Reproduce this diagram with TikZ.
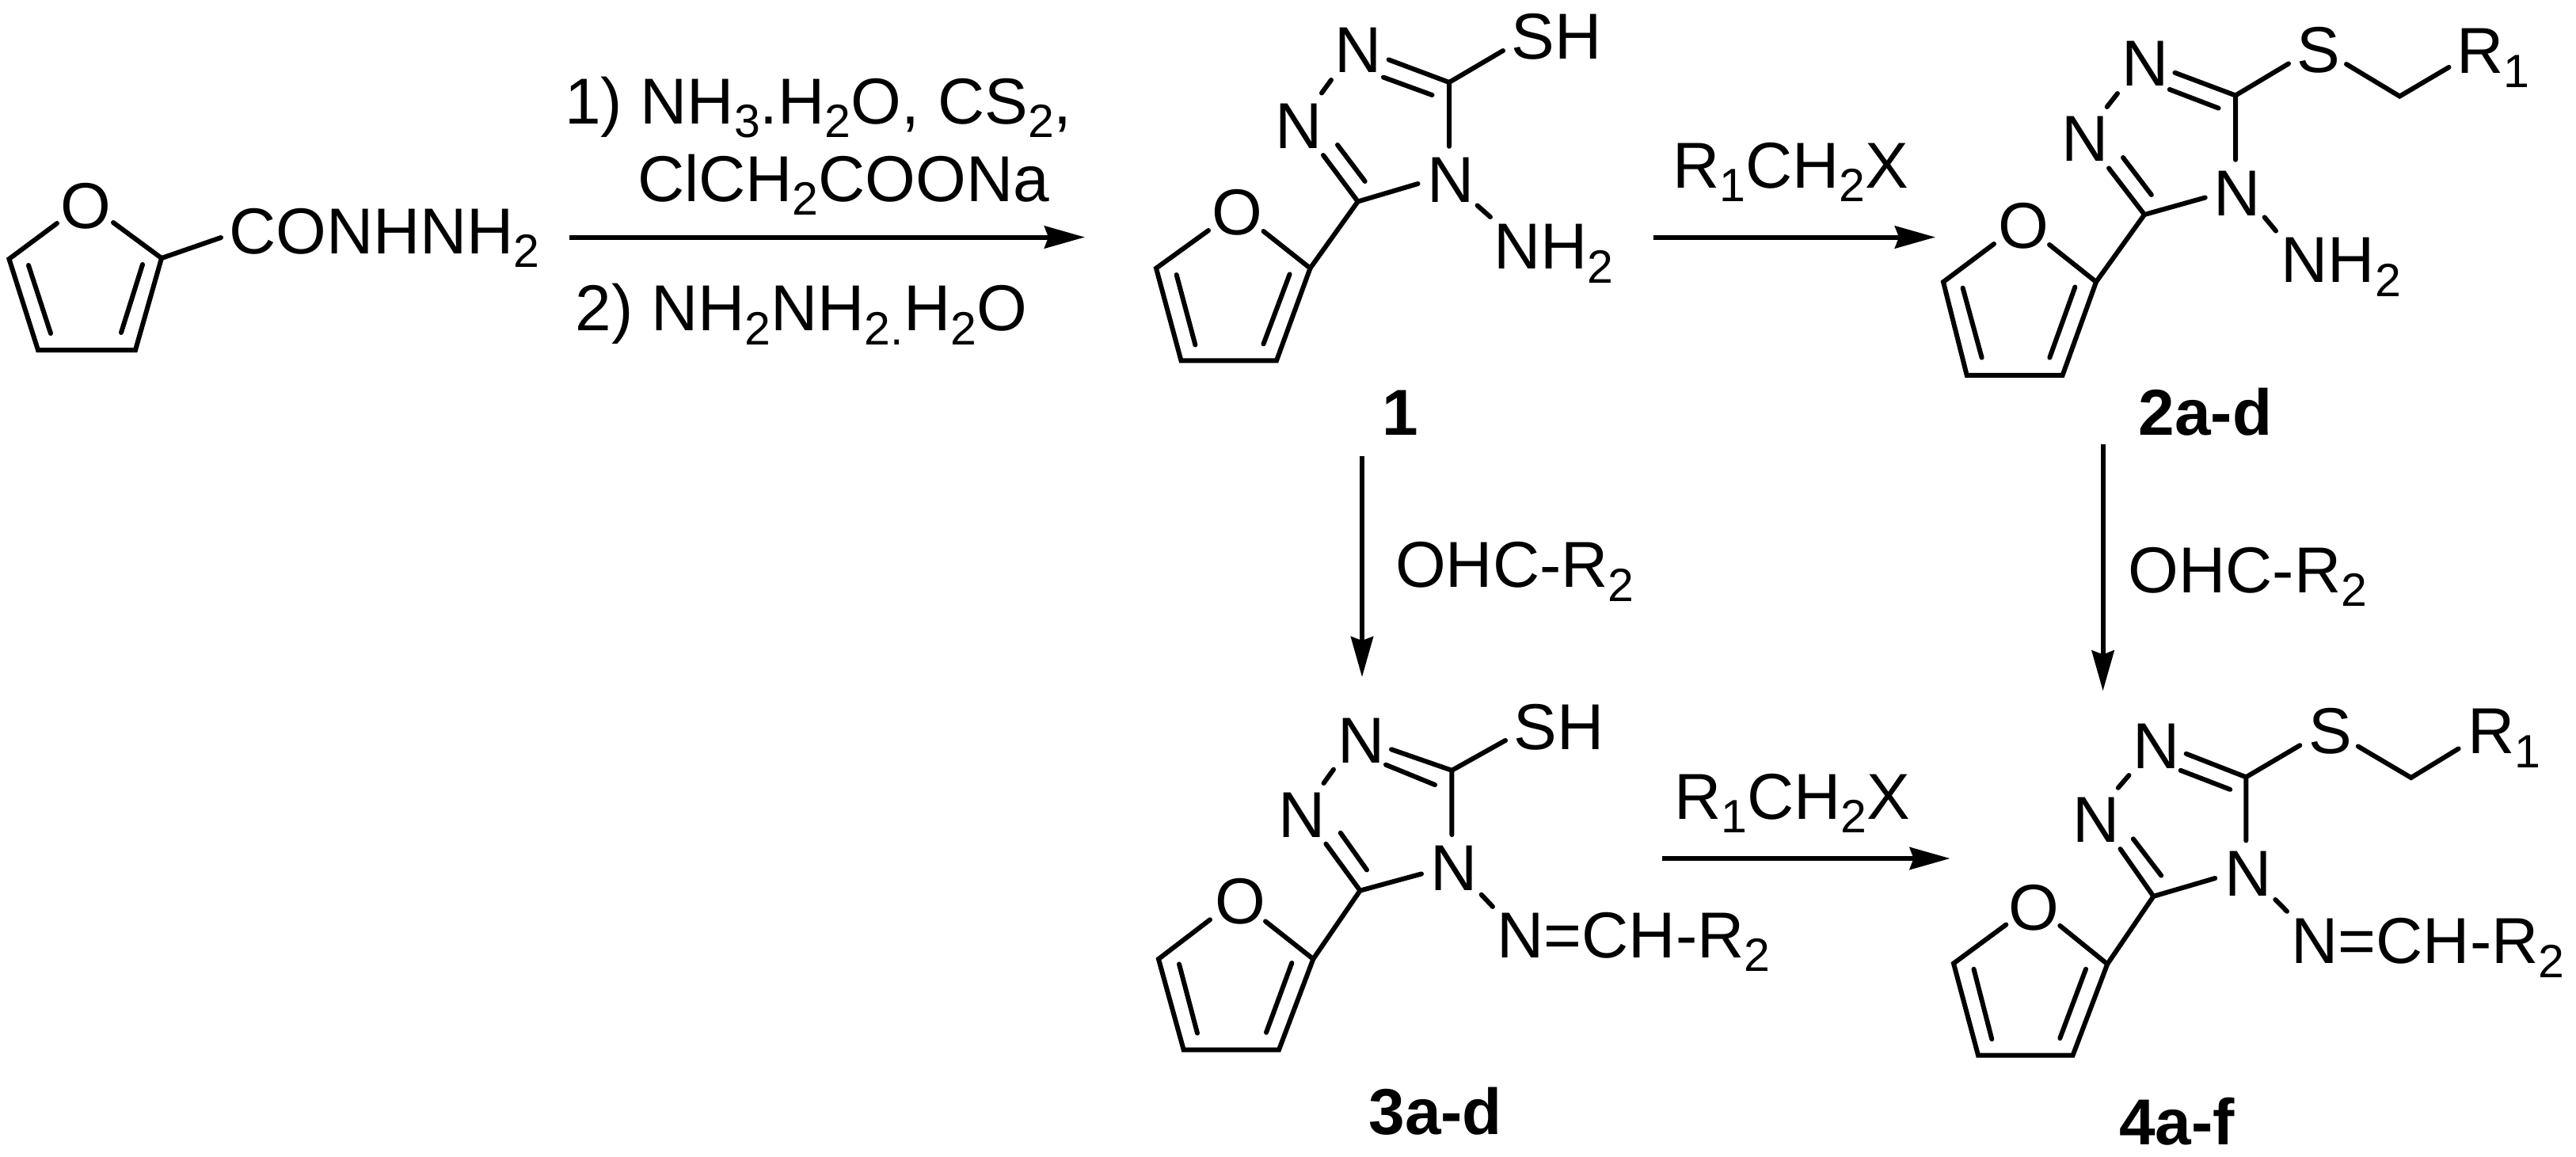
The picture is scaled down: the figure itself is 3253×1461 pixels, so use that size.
\documentclass[tikz,border=0pt]{standalone}
\usepackage{fontspec}
\setmainfont{Liberation Sans}
\usetikzlibrary{arrows.meta}
\newcommand\lsub[1]{\raisebox{-17.5pt}{\fontsize{59}{59}\selectfont #1}}
\newcommand\pt[2]{\coordinate (#1) at (#2);}
\newcommand\drawcore[1]{%
  \draw[bond] (#1Se) -- (#1Cc) -- (#1Nd);
  \draw[bond] (#1Do) -- (#1Cc);
  \draw[bond] (#1Di1) -- (#1Di2);
  \draw[bond] (#1Nn1) -- (#1Nn2);
  \draw[bond] (#1Eo) -- (#1C5) -- (#1N4e);
  \draw[bond] (#1Ei1) -- (#1Ei2);
  \draw[bond] (#1C5) -- (#1F2);
  \draw[bond] (#1FO5) -- (#1F5) -- (#1F4) -- (#1F3) -- (#1F2) -- (#1FO2);
  \draw[bond] (#1Fi1) -- (#1Fi2);
  \draw[bond] (#1Fj1) -- (#1Fj2);
  \draw[bond] (#1Ne1) -- (#1Ne2);
}
\tikzset{
  bond/.style={line width=6pt,line cap=round,line join=miter,black},
  rxn/.style={line width=6pt,black,-{Stealth[length=51pt,width=28pt,inset=5pt]}},
  txt/.style={anchor=base west,inner sep=0pt,outer sep=0pt,font=\fontsize{82}{98}\selectfont},
  lab/.style={anchor=base,inner sep=0pt,outer sep=0pt,font=\fontsize{82}{98}\selectfont\bfseries},
}
\begin{document}
\begin{tikzpicture}[x=1pt,y=-1pt]
\useasboundingbox (0,0) rectangle (3253,1461);
% ---- furoyl hydrazide
\pt{ZO5}{72,282}\pt{Z5}{11.5,327}\pt{Z4}{48,442}\pt{Z3}{171,442}\pt{Z2}{204,326}\pt{ZO2}{143,281}
\pt{Zi1}{36,335}\pt{Zi2}{64,421}\pt{Zj1}{180,334}\pt{Zj2}{153,420}\pt{Zs}{279,300}
\draw[bond] (ZO5) -- (Z5) -- (Z4) -- (Z3) -- (Z2) -- (ZO2);
\draw[bond] (Zi1) -- (Zi2);
\draw[bond] (Zj1) -- (Zj2);
\draw[bond] (Z2) -- (Zs);
\node[txt] (zO) at (76,288) {O};
\node[txt] (zR) at (289,320) {CONHNH\lsub{2}};
% ---- compound 1
\pt{ACc}{1830,104}\pt{ASe}{1898,64}\pt{ANd}{1830,184.8}\pt{ADo}{1753.6,75.4}\pt{ADi1}{1747,97.6}\pt{ADi2}{1808.5,120}
\pt{ANn1}{1669,117.5}\pt{ANn2}{1681,101}\pt{AC5}{1714.7,254.5}\pt{AN4e}{1790.6,232}\pt{AEo}{1671,196}
\pt{AEi1}{1689,183}\pt{AEi2}{1723.7,229}\pt{AF2}{1654.5,338.7}\pt{AFO2}{1595.5,292}\pt{AFO5}{1526,291}
\pt{AF5}{1460,338.7}\pt{AF3}{1612,455.4}\pt{AF4}{1491.5,455.4}\pt{AFi1}{1485.7,347}\pt{AFi2}{1509.4,435.5}
\pt{AFj1}{1628.6,346.3}\pt{AFj2}{1595.5,434.4}\pt{ANe1}{1865.6,259.5}\pt{ANe2}{1882,274}
\drawcore{A}
\node[txt] (aNu) at (1685,92) {N};
\node[txt] (aNl) at (1610.5,187) {N};
\node[txt] (aS) at (1908.5,75) {SH};
\node[txt] (aN4) at (1802.5,255) {N};
\node[txt] (aO) at (1530,296) {O};
\node[txt] (aNH) at (1886,339.5) {NH\lsub{2}};
\node[lab] (aL) at (1768,549) {1};
% ---- compound 2
\pt{BCc}{2823,120.5}\pt{BSe}{2890,80.4}\pt{BNd}{2823,201.7}\pt{BDo}{2746.4,91.8}\pt{BDi1}{2739.8,113}\pt{BDi2}{2801.5,136.6}
\pt{BNn1}{2660.7,135}\pt{BNn2}{2674,118}\pt{BC5}{2708,271}\pt{BN4e}{2784.7,249.5}\pt{BEo}{2663,212.4}
\pt{BEi1}{2681,199}\pt{BEi2}{2716.8,246}\pt{BF2}{2647,356}\pt{BFO2}{2588,309}\pt{BFO5}{2518,308}
\pt{BF5}{2454,356}\pt{BF3}{2604.6,473.8}\pt{BF4}{2483.7,473.8}\pt{BFi1}{2478.6,363.6}\pt{BFi2}{2502.6,451.6}
\pt{BFj1}{2620.4,362.4}\pt{BFj2}{2588.3,451.6}\pt{BNe1}{2859.7,274.4}\pt{BNe2}{2874,291.6}
\pt{BS2}{2963,81}\pt{BCH}{3030.3,121.6}\pt{BRe}{3092.5,84.9}
\drawcore{B}
\draw[bond] (BS2) -- (BCH) -- (BRe);
\node[txt] (bNu) at (2679,109) {N};
\node[txt] (bNl) at (2603.7,203.6) {N};
\node[txt] (bS) at (2900,92) {S};
\node[txt] (bR) at (3102,93) {R\lsub{1}};
\node[txt] (bN4) at (2795.5,272.5) {N};
\node[txt] (bO) at (2523,313) {O};
\node[txt] (bNH) at (2880.7,356.7) {NH\lsub{2}};
\node[lab] (bL) at (2785,549) {2a-d};
% ---- compound 3
\pt{CCc}{1833.4,972.8}\pt{CSe}{1901,935}\pt{CNd}{1833.4,1054}\pt{CDo}{1757,946.3}\pt{CDi1}{1750,965.7}\pt{CDi2}{1812,991}
\pt{CNn1}{1671.5,989}\pt{CNn2}{1684,971.6}\pt{CC5}{1717.5,1124.6}\pt{CN4e}{1795,1103.5}\pt{CEo}{1674.4,1065.6}
\pt{CEi1}{1692.8,1051.7}\pt{CEi2}{1726,1098.5}\pt{CF2}{1658.3,1211}\pt{CFO2}{1598,1163.4}\pt{CFO5}{1528,1161.3}
\pt{CF5}{1463,1211}\pt{CF3}{1615,1325.7}\pt{CF4}{1494.7,1325.7}\pt{CFi1}{1489,1217.4}\pt{CFi2}{1512,1304.6}
\pt{CFj1}{1631.3,1216}\pt{CFj2}{1599,1303.8}\pt{CNe1}{1870.7,1129.7}\pt{CNe2}{1885,1144.9}
\drawcore{C}
\node[txt] (cNu) at (1689.6,963) {N};
\node[txt] (cNl) at (1614,1057) {N};
\node[txt] (cS) at (1911.5,946.7) {SH};
\node[txt] (cN4) at (1806,1124.6) {N};
\node[txt] (cO) at (1534,1166.8) {O};
\node[txt] (cNC) at (1890.6,1209) {N=CH-R\lsub{2}};
\node[lab] (cL) at (1812.7,1432.4) {3a-d};
% ---- compound 4
\pt{DCc}{2836.3,981.3}\pt{DSe}{2904.3,941.2}\pt{DNd}{2836.3,1061.4}\pt{DDo}{2760.7,951.8}\pt{DDi1}{2753.6,972.8}\pt{DDi2}{2816.2,996.9}
\pt{DNn1}{2674.8,994.8}\pt{DNn2}{2688.4,979}\pt{DC5}{2719.4,1131.8}\pt{DN4e}{2797.2,1109}\pt{DEo}{2677.5,1072}
\pt{DEi1}{2693.8,1059.3}\pt{DEi2}{2729.2,1105.6}\pt{DF2}{2661.2,1217.4}\pt{DFO2}{2601.3,1168.9}\pt{DFO5}{2533.3,1167.6}
\pt{DF5}{2467,1216.5}\pt{DF3}{2617.6,1332.5}\pt{DF4}{2498,1332.5}\pt{DFi1}{2492.5,1223.7}\pt{DFi2}{2515.3,1312.2}
\pt{DFj1}{2634,1223.7}\pt{DFj2}{2601.3,1311}\pt{DNe1}{2873.3,1136}\pt{DNe2}{2888,1150.8}
\pt{DS2}{2977.8,942.5}\pt{DCH}{3044.7,982}\pt{DRe}{3104.6,945.4}
\drawcore{D}
\draw[bond] (DS2) -- (DCH) -- (DRe);
\node[txt] (dNu) at (2693,970.7) {N};
\node[txt] (dNl) at (2617,1063.5) {N};
\node[txt] (dS) at (2915.6,951.8) {S};
\node[txt] (dR) at (3116,951.8) {R\lsub{1}};
\node[txt] (dN4) at (2809,1131) {N};
\node[txt] (dO) at (2536.4,1174.4) {O};
\node[txt] (dNC) at (2893.5,1216.5) {N=CH-R\lsub{2}};
\node[lab] (dL) at (2749,1445) {4a-f};
% ---- reaction arrows
\pt{r1s}{719,299.5}\pt{r1e}{1370,299.5}
\pt{r2s}{2088,299.5}\pt{r2e}{2444,299.5}
\pt{r3s}{1720,576}\pt{r3e}{1720,855}
\pt{r4s}{2655.6,561}\pt{r4e}{2655.6,872.5}
\pt{r5s}{2099,1084}\pt{r5e}{2462.6,1084}
\draw[rxn] (r1s) -- (r1e);
\draw[rxn] (r2s) -- (r2e);
\draw[rxn] (r3s) -- (r3e);
\draw[rxn] (r4s) -- (r4e);
\draw[rxn] (r5s) -- (r5e);
% ---- reagents
\node[txt] (t1) at (713,156.5) {1) NH\lsub{3}.H\lsub{2}O, CS\lsub{2},};
\node[txt] (t2) at (805,254) {ClCH\lsub{2}COONa};
\node[txt] (t3) at (726.5,417.5) {2) NH\lsub{2}NH\lsub{2}\lsub{.}H\lsub{2}O};
\node[txt] (t4) at (2112,237.3) {R\lsub{1}CH\lsub{2}X};
\node[txt] (t5) at (2114.4,1034) {R\lsub{1}CH\lsub{2}X};
\node[txt] (t6) at (1762,741.7) {OHC-R\lsub{2}};
\node[txt] (t7) at (2687.7,748) {OHC-R\lsub{2}};
\end{tikzpicture}
\end{document}
